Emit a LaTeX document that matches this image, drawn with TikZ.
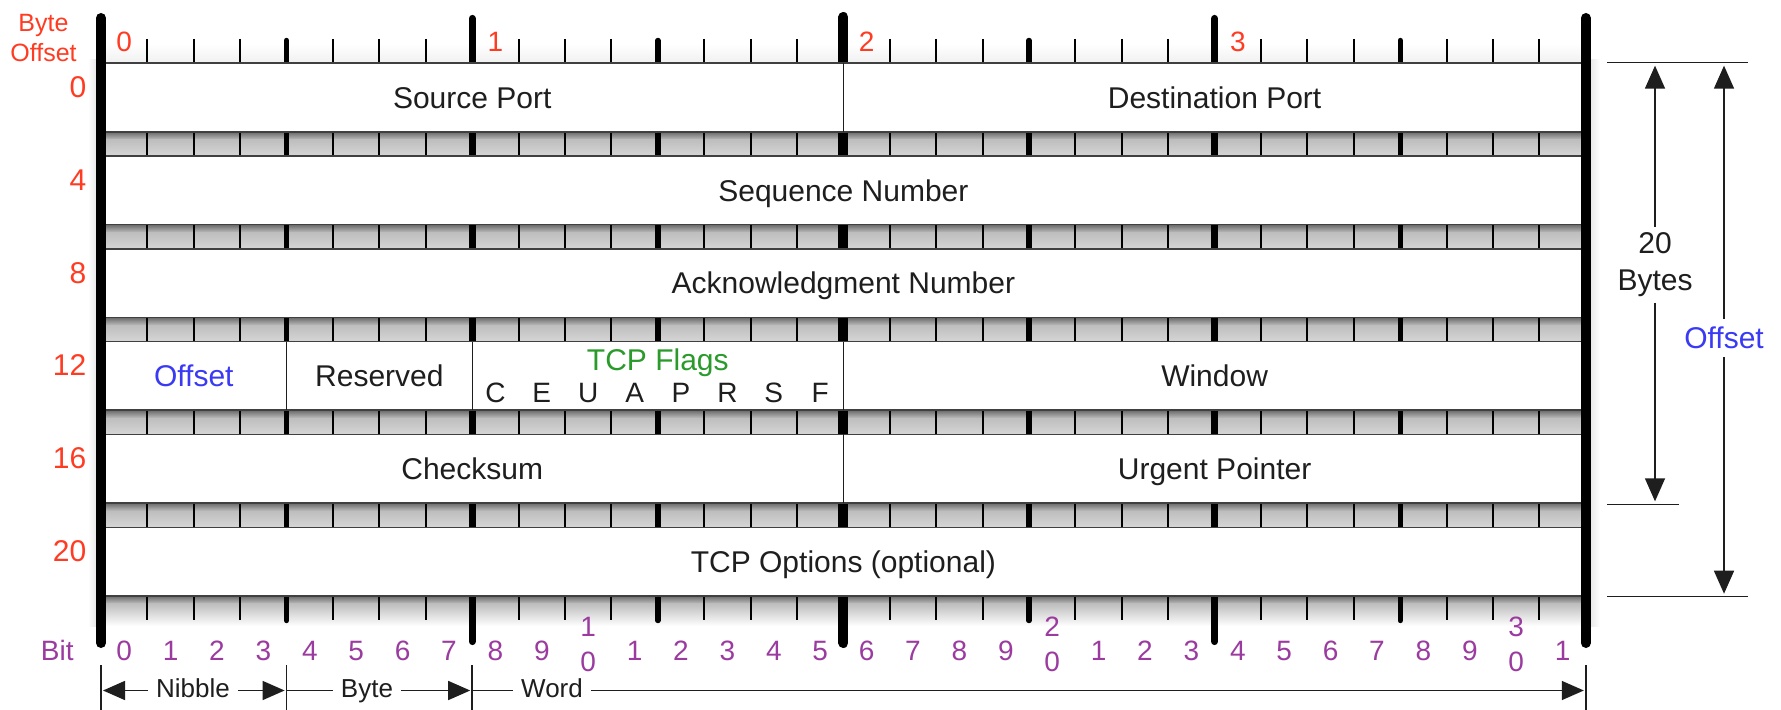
\documentclass[tikz,border=0pt]{standalone}
\usepackage{fontspec}
\setmainfont{Liberation Sans}
\usetikzlibrary{arrows.meta}
\definecolor{ofsred}{HTML}{FF3B22}
\definecolor{fblue}{HTML}{3A3AF5}
\definecolor{fgreen}{HTML}{2A9A2A}
\definecolor{bitpurple}{HTML}{9B3BA0}
\definecolor{ink}{HTML}{1E1E1E}
\definecolor{stripdark}{HTML}{6A6A6A}
\definecolor{stripmid}{HTML}{BEBEBE}
\definecolor{striplight}{HTML}{D6D6D6}
\begin{document}
\begin{tikzpicture}[x=0.5pt,y=-0.5pt,
  fieldlbl/.style={font=\fontsize{15}{18}\selectfont, text=ink, anchor=base, inner sep=0pt},
  rowlbl/.style={font=\fontsize{15}{18}\selectfont, text=ofsred, anchor=base east, inner sep=0pt},
  toplbl/.style={font=\fontsize{14}{17}\selectfont, text=ofsred, anchor=base, inner sep=0pt},
  cornerlbl/.style={font=\fontsize{12.5}{14}\selectfont, text=ofsred, anchor=base, inner sep=0pt},
  bitlbl/.style={font=\fontsize{14}{17}\selectfont, text=bitpurple, anchor=base, inner sep=0pt},
  flaglbl/.style={font=\fontsize{14}{17}\selectfont, text=ink, anchor=base, inner sep=0pt},
  spanlbl/.style={font=\fontsize{13}{16}\selectfont, text=ink, inner xsep=4pt, inner ysep=0pt, text height=0.72em, text depth=0pt},
  sidelbl/.style={font=\fontsize{15}{18.5}\selectfont, text=ink, align=center, inner xsep=2pt, inner ysep=2.8pt},
  thintick/.style={draw=black, line width=1pt},
  nibblebar/.style={draw=black, line width=2.7pt, line cap=round},
  bytebar/.style={draw=black, line width=3.6pt, line cap=round},
  wordbar/.style={draw=black, line width=5pt, line cap=round},
  boxframe/.style={draw=ink!85, fill=white, line width=0.8pt},
  divider/.style={draw=ink, line width=0.7pt},
  thinline/.style={draw=ink, line width=0.75pt},
  sidearrow/.style={draw=ink, line width=0.75pt, shorten >=1.5pt, -{Triangle[length=11.5pt,width=10pt]}},
  spanarrow/.style={draw=ink, line width=0.75pt, shorten >=1pt, -{Triangle[length=11pt,width=9.5pt]}}
]
\useasboundingbox[fill=white] (0,0) rectangle (1781,710);

% soft side shadows
\shade[left color=white, right color=gray!18] (88,60) rectangle (96,626);
\shade[left color=gray!18, right color=white] (1590,60) rectangle (1600,626);

% top ruler background
\shade[top color=white, bottom color=gray!12] (101,44) rectangle (1585.8,63.3);

% strips between rows
\foreach \r in {0,...,4}{
  \pgfmathsetmacro{\ya}{63.3+92.8*\r+68.5}
  \pgfmathsetmacro{\yb}{\ya+8}
  \pgfmathsetmacro{\yc}{63.3+92.8*(\r+1)}
  \shade[top color=stripdark, bottom color=stripmid] (101,\ya) rectangle (1585.8,\yb);
  \shade[top color=stripmid, bottom color=striplight] (101,\yb) rectangle (1585.8,\yc);
}
% bottom strip fading out
\shade[top color=stripdark, bottom color=stripmid] (101,595.8) rectangle (1585.8,603.8);
\shade[top color=stripmid, bottom color=white] (101,603.8) rectangle (1585.8,626);

% thin bit ticks
\foreach \i in {1,2,3,5,6,7,9,10,11,13,14,15,17,18,19,21,22,23,25,26,27,29,30,31}{
  \pgfmathsetmacro{\xx}{101+46.4*\i}
  \draw[thintick] (\xx,39) -- (\xx,620);
}
% nibble bars
\foreach \i in {4,12,20,28}{
  \pgfmathsetmacro{\xx}{101+46.4*\i}
  \draw[nibblebar] (\xx,40.5) -- (\xx,620.5);
}
% byte bars
\foreach \i in {8,24}{
  \pgfmathsetmacro{\xx}{101+46.4*\i}
  \draw[bytebar] (\xx,18.5) -- (\xx,641.5);
}
% middle word bar
\draw[wordbar] (843.4,17) -- (843.4,643);

% row boxes
\foreach \r in {0,...,5}{
  \pgfmathsetmacro{\ya}{63.3+92.8*\r}
  \pgfmathsetmacro{\yb}{\ya+68.5}
  \draw[boxframe] (101,\ya) rectangle (1585.8,\yb);
}

% field dividers
\draw[divider] (843.4,63.3) -- (843.4,131.8);
\draw[divider] (843.4,341.7) -- (843.4,410.2);
\draw[divider] (843.4,434.5) -- (843.4,503);
\draw[divider] (286.6,341.7) -- (286.6,410.2);
\draw[divider] (472.2,341.7) -- (472.2,410.2);

% outer word bars
\draw[wordbar] (101,18) -- (101,643);
\draw[wordbar] (1585.8,18) -- (1585.8,643);

% corner label
\node[cornerlbl] (cornerByte) at (43.5,32) {Byte};
\node[cornerlbl] (cornerOffset) at (43.5,62) {Offset};

% top byte numbers
\foreach \k in {0,1,2,3}{
  \pgfmathsetmacro{\xx}{101+46.4*(8*\k+0.5)}
  \node[toplbl] (byteNum\k) at (\xx,51.7) {\k};
}

% row offset labels
\foreach \r/\lab in {0/0,1/4,2/8,3/12,4/16,5/20}{
  \pgfmathsetmacro{\yy}{63.3+92.8*\r+34.25}
  \node[rowlbl] (rowNum\r) at (86.7,\yy) {\lab};
}

% field labels
\node[fieldlbl] (srcPort) at (472.2,108.3) {Source Port};
\node[fieldlbl] (dstPort) at (1214.6,108.3) {Destination Port};
\node[fieldlbl] (seqNum) at (843.4,201.1) {Sequence Number};
\node[fieldlbl] (ackNum) at (843.4,293.9) {Acknowledgment Number};
\node[fieldlbl, text=fblue] (dataOff) at (193.8,386.7) {Offset};
\node[fieldlbl] (reserved) at (379.4,386.7) {Reserved};
\node[fieldlbl, text=fgreen] (flagsTitle) at (657.8,370.2) {TCP Flags};
\foreach \i/\f in {8/C,9/E,10/U,11/A,12/P,13/R,14/S,15/F}{
  \pgfmathsetmacro{\xx}{101+46.4*(\i+0.5)}
  \node[flaglbl] (flag\f) at (\xx,403) {\f};
}
\node[fieldlbl] (window) at (1214.6,386.7) {Window};
\node[fieldlbl] (checksum) at (472.2,479.5) {Checksum};
\node[fieldlbl] (urgent) at (1214.6,479.5) {Urgent Pointer};
\node[fieldlbl] (options) at (843.4,572.3) {TCP Options (optional)};

% bit numbers
\node[bitlbl, anchor=base east] (bitWord) at (74,660) {Bit};
\foreach \i in {0,...,31}{
  \pgfmathsetmacro{\xx}{101+46.4*(\i+0.5)}
  \pgfmathtruncatemacro{\dd}{mod(\i,10)}
  \pgfmathtruncatemacro{\tens}{div(\i,10)}
  \pgfmathtruncatemacro{\st}{(\dd==0)&&(\i>0)}
  \ifnum\st=1
    \node[bitlbl] (bitT\i) at (\xx,636.7) {\tens};
    \node[bitlbl] (bitB\i) at (\xx,671.7) {0};
  \else
    \node[bitlbl] (bit\i) at (\xx,660) {\dd};
  \fi
}

% right-side dimension lines
\coordinate (hTopL) at (1607,62.7);
\coordinate (hTopR) at (1748,62.7);
\coordinate (hMidL) at (1607,504.3);
\coordinate (hMidR) at (1679,504.3);
\coordinate (hBotL) at (1607,596.7);
\coordinate (hBotR) at (1748,596.7);
\draw[thinline] (hTopL) -- (hTopR);
\draw[thinline] (hMidL) -- (hMidR);
\draw[thinline] (hBotL) -- (hBotR);
\node[sidelbl] (bytes20) at (1655,264.7) {20\\Bytes};
\node[sidelbl, text=fblue, inner ysep=4pt] (offRight) at (1724,338) {Offset};
\draw[sidearrow] (bytes20.north) -- (bytes20.north |- hTopL);
\draw[sidearrow] (bytes20.south) -- (bytes20.south |- hMidL);
\draw[sidearrow] (offRight.north) -- (offRight.north |- hTopL);
\draw[sidearrow] (offRight.south) -- (offRight.south |- hBotL);

% bottom span markers
\draw[thinline] (101,665) -- (101,712);
\draw[thinline] (286.6,665) -- (286.6,712);
\draw[thinline] (472.2,665) -- (472.2,712);
\draw[thinline] (1585.8,665) -- (1585.8,712);
\coordinate (sb0) at (101,690.5);
\coordinate (sb4) at (286.6,690.5);
\coordinate (sb8) at (472.2,690.5);
\coordinate (sb32) at (1585.8,690.5);
\node[spanlbl] (nibble) at (193,690.5) {Nibble};
\node[spanlbl] (byteSpan) at (367,690.5) {Byte};
\node[spanlbl] (wordSpan) at (552,690.5) {Word};
\draw[spanarrow] (nibble.west) -- (sb0);
\draw[spanarrow] (nibble.east) -- (sb4);
\draw[thinline] (byteSpan.west) -- (sb4);
\draw[spanarrow] (byteSpan.east) -- (sb8);
\draw[thinline] (wordSpan.west) -- (sb8);
\draw[spanarrow] (wordSpan.east) -- (sb32);
\end{tikzpicture}
\end{document}
